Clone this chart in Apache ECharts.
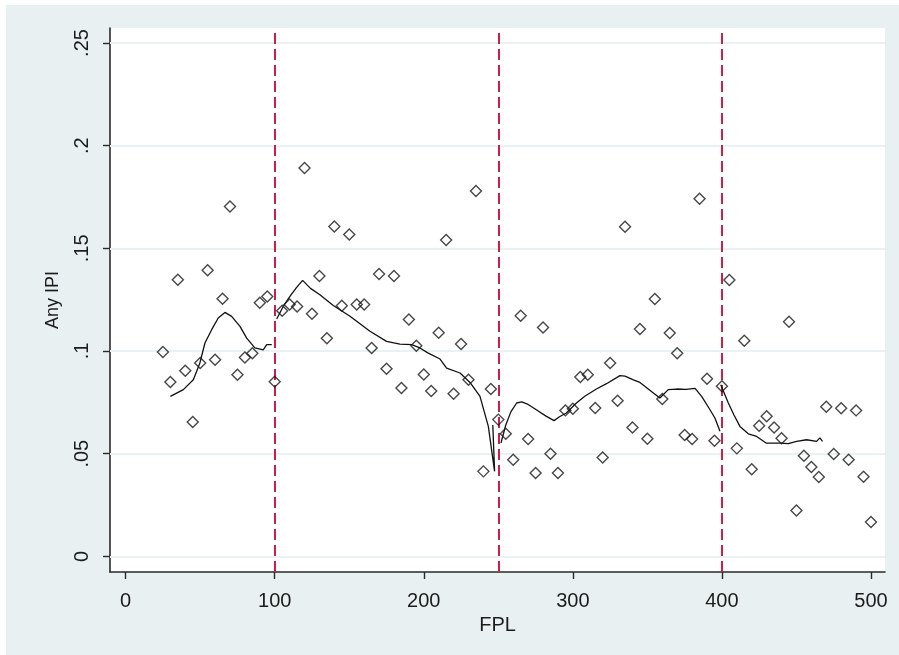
<!DOCTYPE html>
<html>
<head>
<meta charset="utf-8">
<title>Any IPI by FPL</title>
<style>
  html, body { margin: 0; padding: 0; background: #ffffff; }
  #chart { position: absolute; left: 6px; top: 5px; width: 893px; height: 650px; }
</style>
<script src="https://cdn.jsdelivr.net/npm/echarts@6/dist/echarts.min.js"></script>
</head>
<body>
<div id="chart"></div>
<script>
// Binned FPL values (x) and share with any IPI (y)
const fplBins = [
  25, 30, 35, 40, 45, 50, 55, 60, 65, 70, 75, 80, 85, 90, 95, 100,
  105, 110, 115, 120, 125, 130, 135, 140, 145, 150, 155, 160, 165, 170, 175, 180,
  185, 190, 195, 200, 205, 210, 215, 220, 225, 230, 235, 240, 245, 250, 255, 260,
  265, 270, 275, 280, 285, 290, 295, 300, 305, 310, 315, 320, 325, 330, 335, 340,
  345, 350, 355, 360, 365, 370, 375, 380, 385, 390, 395, 400, 405, 410, 415, 420,
  425, 430, 435, 440, 445, 450, 455, 460, 465, 470, 475, 480, 485, 490, 495, 500
];
const anyIpi = [
  0.0995, 0.0849, 0.1347, 0.0904, 0.0654, 0.0942, 0.1393, 0.0958, 0.1255, 0.1704, 0.0885, 0.0968, 0.0989, 0.1235, 0.1266, 0.0851,
  0.1196, 0.1227, 0.1217, 0.1891, 0.1182, 0.1365, 0.1062, 0.1606, 0.1221, 0.1568, 0.1227, 0.1227, 0.1015, 0.1375, 0.0914, 0.1365,
  0.0820, 0.1153, 0.1026, 0.0886, 0.0805, 0.1089, 0.1541, 0.0792, 0.1034, 0.0860, 0.1779, 0.0414, 0.0815, 0.0666, 0.0597, 0.0471,
  0.1172, 0.0572, 0.0406, 0.1115, 0.0500, 0.0406, 0.0711, 0.0719, 0.0874, 0.0885, 0.0723, 0.0482, 0.0942, 0.0758, 0.1605, 0.0628,
  0.1107, 0.0573, 0.1253, 0.0766, 0.1088, 0.0989, 0.0591, 0.0572, 0.1742, 0.0865, 0.0563, 0.0828, 0.1346, 0.0526, 0.1050, 0.0424,
  0.0636, 0.0682, 0.0628, 0.0575, 0.1143, 0.0223, 0.0490, 0.0435, 0.0387, 0.0729, 0.0499, 0.0721, 0.0471, 0.0711, 0.0388, 0.0167
];

// Smoothed fit, one piece per FPL band
const smoothBelow100 = [
  [30, 0.0779], [38.7, 0.0812], [45.4, 0.0860], [49.8, 0.0942], [53.2, 0.1039], [57.7, 0.1104],
  [62.1, 0.1161], [66.6, 0.1188], [71.1, 0.1169], [76.7, 0.1120], [81.2, 0.1063], [86.7, 0.1015],
  [92.3, 0.1006], [94.6, 0.1031], [98, 0.1031]
];
const smooth100to250 = [
  [101.3, 0.1156], [105.7, 0.1217], [110.2, 0.1266], [114.7, 0.1310], [118.7, 0.1344], [124, 0.1305],
  [130.3, 0.1274], [139.3, 0.1222], [150.5, 0.1169], [163.9, 0.1096], [175, 0.1047], [184, 0.1034],
  [191.9, 0.1031], [197.4, 0.1015], [203, 0.0990], [210.9, 0.0961], [215.3, 0.0917], [224.3, 0.0893],
  [231, 0.0847], [237.7, 0.0779], [243.3, 0.0633], [247.5, 0.0414], [246.3, 0.0640]
];
const smooth250to400 = [
  [251.8, 0.0552], [255, 0.0640], [258.5, 0.0705], [262.3, 0.0747], [265.7, 0.0752], [270, 0.0740],
  [276, 0.0712], [282, 0.0683], [287.4, 0.0661], [291, 0.0680], [295.6, 0.0698], [302.4, 0.0747],
  [308, 0.0780], [315.8, 0.0815], [322.6, 0.0841], [331.6, 0.0880], [335, 0.0878], [340.6, 0.0860],
  [345, 0.0847], [354, 0.0796], [358.4, 0.0771], [364, 0.0812], [369.6, 0.0815], [376, 0.0813],
  [382, 0.0818], [386.4, 0.0779], [392, 0.0714], [395.3, 0.0674], [398.7, 0.0609]
];
const smoothAbove400 = [
  [399.2, 0.0836], [404.3, 0.0747], [408, 0.0690], [412.1, 0.0633], [417.7, 0.0597], [423.3, 0.0584],
  [429.6, 0.0552], [439, 0.0552], [444.5, 0.0549], [450.1, 0.0560], [456.8, 0.0568], [463.5, 0.0560],
  [465.7, 0.0577], [467.5, 0.0560]
];

// Cutoffs and axis ticks
const fplCutoffs = [100, 250, 400];
const xTicks = [0, 100, 200, 300, 400, 500];
const yTicks = [0, 0.05, 0.1, 0.15, 0.2, 0.25];

const textFont = 'Liberation Sans';
const inkColor = '#1c1c1c';
const axisColor = '#2a2a2a';

function ipiLabel(v) {
  if (Math.abs(v) < 1e-9) return '0';
  return String(+v.toFixed(2)).replace(/^0\./, '.');
}

function fitSeries(points, extra) {
  return Object.assign({
    type: 'line',
    data: points,
    showSymbol: false,
    symbol: 'none',
    smooth: false,
    silent: true,
    z: 3,
    lineStyle: { color: '#111111', width: 1.3 }
  }, extra || {});
}

const chart = echarts.init(document.getElementById('chart'), null, { renderer: 'canvas' });

chart.setOption({
  animation: false,
  backgroundColor: '#e8f0f2',
  grid: {
    left: 104, right: 14, top: 23, bottom: 83,
    show: true, backgroundColor: '#ffffff', borderWidth: 0,
    containLabel: false
  },
  xAxis: {
    type: 'value',
    min: -10.5, max: 509.4,
    name: 'FPL',
    nameLocation: 'middle',
    nameGap: 34,
    nameTextStyle: { fontFamily: textFont, fontSize: 20, color: inkColor },
    axisLine: { show: true, onZero: false, lineStyle: { color: axisColor, width: 1.6 } },
    axisTick: { show: true, length: 7, customValues: xTicks, lineStyle: { color: axisColor, width: 1.4 } },
    axisLabel: { customValues: xTicks, margin: 19, fontFamily: textFont, fontSize: 20, color: inkColor },
    splitLine: { show: false }
  },
  yAxis: {
    type: 'value',
    min: -0.0076, max: 0.2573,
    name: 'Any IPI',
    nameLocation: 'middle',
    nameRotate: 90,
    nameGap: 48,
    nameTextStyle: { fontFamily: textFont, fontSize: 18, color: inkColor },
    axisLine: { show: true, onZero: false, lineStyle: { color: axisColor, width: 1.6 } },
    axisTick: { show: true, length: 7, customValues: yTicks, lineStyle: { color: axisColor, width: 1.4 } },
    axisLabel: {
      customValues: yTicks, rotate: 90, margin: 18,
      fontFamily: textFont, fontSize: 20, color: inkColor,
      formatter: ipiLabel
    },
    splitLine: { show: false }
  },
  series: [
    fitSeries(smoothBelow100, {
      markLine: {
        silent: true, z: 1, symbol: ['none', 'none'], label: { show: false },
        lineStyle: { color: '#e9f1f3', width: 2, type: 'solid' },
        data: yTicks.map(v => ({ yAxis: v }))
      }
    }),
    fitSeries(smooth100to250),
    fitSeries(smooth250to400),
    fitSeries(smoothAbove400),
    {
      type: 'scatter',
      data: fplBins.map((x, i) => [x, anyIpi[i]]),
      symbol: 'diamond',
      symbolSize: 11,
      z: 4,
      silent: true,
      itemStyle: { color: 'rgba(255,255,255,0)', borderColor: '#1a1a1a', borderWidth: 1.4 },
      markLine: {
        silent: true, z: 2, symbol: ['none', 'none'], label: { show: false },
        lineStyle: { color: '#cc1f47', width: 2, type: [11, 5] },
        data: fplCutoffs.map(v => ({ xAxis: v }))
      }
    }
  ]
});
</script>
</body>
</html>
